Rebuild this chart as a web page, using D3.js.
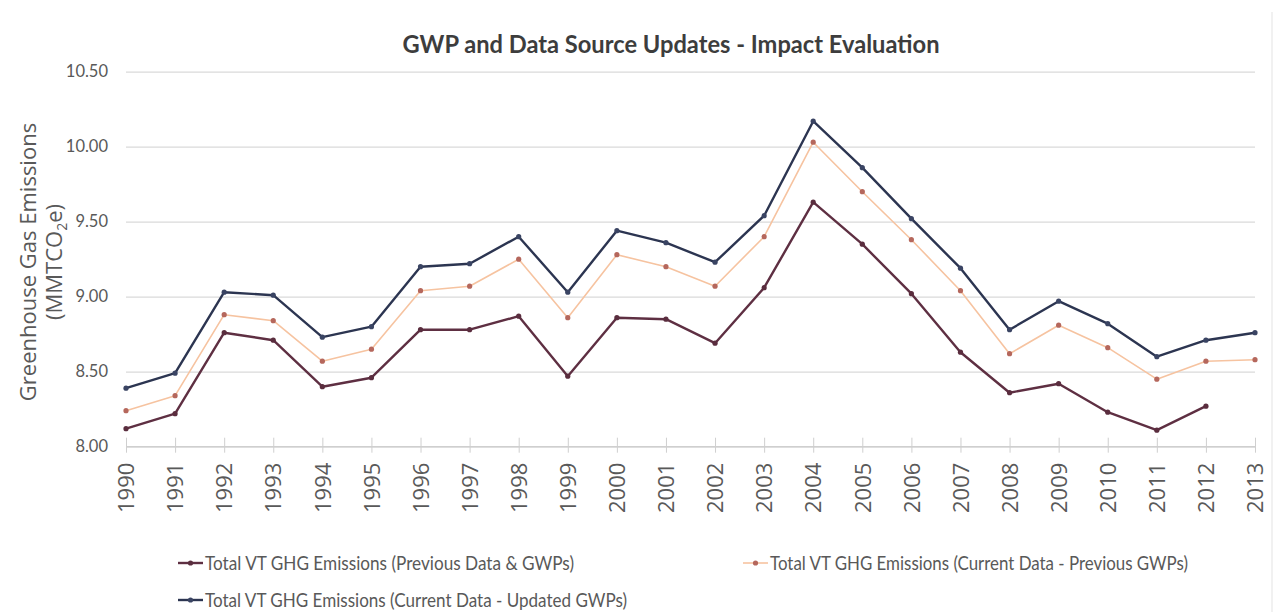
<!DOCTYPE html>
<html>
<head>
<meta charset="utf-8">
<script src="https://cdn.jsdelivr.net/npm/d3@7"></script>
<style>
  body { margin: 0; background: #fff; }
</style>
</head>
<body>
<div id="container"></div>
<script>
/* DATA */
const years = ['1990','1991','1992','1993','1994','1995','1996','1997','1998','1999','2000','2001',
               '2002','2003','2004','2005','2006','2007','2008','2009','2010','2011','2012','2013']
// Total VT GHG Emissions (Previous Data & GWPs) - no value for 2013
const previousData = [8.12,8.22,8.76,8.71,8.40,8.46,8.78,8.78,8.87,8.47,8.86,8.85,
                      8.69,9.06,9.63,9.35,9.02,8.63,8.36,8.42,8.23,8.11,8.27,null]
// Total VT GHG Emissions (Current Data - Previous GWPs)
const currentPrevGwp = [8.24,8.34,8.88,8.84,8.57,8.65,9.04,9.07,9.25,8.86,9.28,9.20,
                        9.07,9.40,10.03,9.70,9.38,9.04,8.62,8.81,8.66,8.45,8.57,8.58]
// Total VT GHG Emissions (Current Data - Updated GWPs)
const currentUpdated = [8.39,8.49,9.03,9.01,8.73,8.80,9.20,9.22,9.40,9.03,9.44,9.36,
                        9.23,9.54,10.17,9.86,9.52,9.19,8.78,8.97,8.82,8.60,8.71,8.76]
const yTicks = [8.0, 8.5, 9.0, 9.5, 10.0, 10.5]

const seriesNames = ['Total VT GHG Emissions (Previous Data & GWPs)',
                     'Total VT GHG Emissions (Current Data - Previous GWPs)',
                     'Total VT GHG Emissions (Current Data - Updated GWPs)']

/* LAYOUT */
const width = 1278, height = 612
const plotLeft = 126, plotRight = 1255, plotTop = 71.7, plotBottom = 446.7
const labelFont = '"Open Sans", sans-serif'
const narrowFont = 'Lato, sans-serif'
const grey = '#595959'

const svg = d3.select('#container').append('svg')
    .attr('width', width).attr('height', height)

const x = d3.scalePoint().domain(years).range([plotLeft, plotRight])
const y = d3.scaleLinear().domain([8, 10.5]).range([plotBottom, plotTop])

// faint chart border on the right
svg.append('line').attr('x1', 1272).attr('x2', 1272).attr('y1', 12).attr('y2', 612)
    .attr('stroke', '#ececec').attr('stroke-width', 1.5)

// gridlines + y labels
const yAxis = svg.append('g').attr('transform', 'translate(' + plotLeft + ',0)')
    .call(d3.axisLeft(y).tickValues(yTicks).tickFormat(d3.format('.2f'))
        .tickSize(-(plotRight - plotLeft)).tickPadding(18))
yAxis.select('.domain').remove()
yAxis.selectAll('.tick line').attr('stroke', '#dadada').attr('stroke-width', 1.2)
yAxis.selectAll('.tick text').attr('fill', grey)
    .style('font-family', narrowFont).style('font-size', '16.5px')

// x axis
const xAxis = svg.append('g').attr('transform', 'translate(0,' + plotBottom + ')')
    .call(d3.axisBottom(x).tickSize(6))
xAxis.select('.domain').attr('stroke', '#cfcfcf').attr('stroke-width', 1.2)
    .attr('d', 'M' + plotLeft + ',0H' + plotRight)
xAxis.selectAll('.tick line').attr('stroke', '#cfcfcf').attr('y1', -9).attr('y2', 6)
xAxis.selectAll('.tick text')
    .attr('y', 0).attr('x', 0).attr('dy', '0.35em')
    .attr('transform', 'translate(0,16) rotate(-90)')
    .attr('text-anchor', 'end')
    .attr('fill', grey)
    .style('font-family', labelFont).style('font-size', '22px')

// y axis title
const yTitle = svg.append('text')
    .attr('transform', 'translate(36,262) rotate(-90)')
    .attr('text-anchor', 'middle')
    .attr('fill', grey)
    .style('font-family', labelFont).style('font-size', '22px')
yTitle.append('tspan').attr('x', 0).attr('dy', 0).text('Greenhouse Gas Emissions')
const sub = yTitle.append('tspan').attr('x', 0).attr('dy', 26).text('(MMTCO')
sub.append('tspan').attr('dy', 5).style('font-size', '14px').text('2')
sub.append('tspan').attr('dy', -5).text('e)')

// title
svg.append('text')
    .attr('x', 671).attr('y', 53)
    .attr('text-anchor', 'middle')
    .attr('fill', '#3d3d3d')
    .attr('textLength', 537).attr('lengthAdjust', 'spacingAndGlyphs')
    .style('font-family', narrowFont).style('font-weight', 'bold').style('font-size', '25px')
    .text('GWP and Data Source Updates - Impact Evaluation')

/* SERIES */
const series = [
    { name: seriesNames[0], values: previousData, line: '#5e2f42', dot: '#5a2d3e', w: 2.4 },
    { name: seriesNames[1], values: currentPrevGwp, line: '#f6c3a0', dot: '#b5675c', w: 1.6 },
    { name: seriesNames[2], values: currentUpdated, line: '#2c3551', dot: '#3a4463', w: 2.4 }
]

const line = d3.line()
    .defined(d => d.v != null)
    .x(d => x(d.year))
    .y(d => y(d.v))

series.forEach(function(s) {
    const pts = years.map((yr, i) => ({ year: yr, v: s.values[i] }))
    svg.append('path').datum(pts)
        .attr('d', line)
        .attr('fill', 'none')
        .attr('stroke', s.line)
        .attr('stroke-width', s.w)
        .attr('stroke-linejoin', 'round')
    svg.selectAll(null).data(pts.filter(d => d.v != null)).enter()
        .append('circle')
        .attr('cx', d => x(d.year))
        .attr('cy', d => y(d.v))
        .attr('r', 2.6)
        .attr('fill', s.dot)
})

/* LEGEND */
const legendItems = [
    { s: series[0], x: 178, y: 563, len: 369 },
    { s: series[1], x: 743, y: 563, len: 418 },
    { s: series[2], x: 178, y: 600, len: 422 }
]
legendItems.forEach(function(it) {
    const g = svg.append('g').attr('transform', 'translate(' + it.x + ',' + it.y + ')')
    g.append('line').attr('x1', 0).attr('x2', 25).attr('y1', 0).attr('y2', 0)
        .attr('stroke', it.s.line).attr('stroke-width', it.s.w)
    g.append('circle').attr('cx', 12.5).attr('cy', 0).attr('r', 2.6).attr('fill', it.s.dot)
    g.append('text').attr('x', 27).attr('y', 7)
        .attr('fill', grey)
        .attr('textLength', it.len).attr('lengthAdjust', 'spacingAndGlyphs')
        .style('font-family', narrowFont).style('font-size', '20px')
        .text(it.s.name)
})
</script>
</body>
</html>
